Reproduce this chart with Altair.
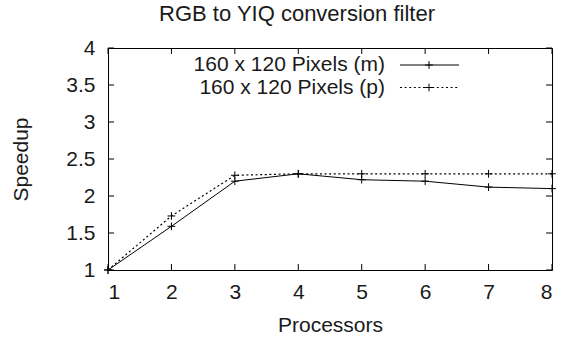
import altair as alt
import pandas as pd

# Speedup measurements for the RGB -> YIQ conversion filter
processors = [1, 2, 3, 4, 5, 6, 7, 8]
speedup_m = [1.0, 1.59, 2.2, 2.3, 2.22, 2.2, 2.12, 2.1]
speedup_p = [1.0, 1.73, 2.28, 2.3, 2.3, 2.3, 2.3, 2.3]
series_names = ["160 x 120 Pixels (m)", "160 x 120 Pixels (p)"]

x_ticks = [1, 2, 3, 4, 5, 6, 7, 8]
y_ticks = [1, 1.5, 2, 2.5, 3, 3.5, 4]

W, H = 444, 222
FONT = "Liberation Sans, Arial, Helvetica, sans-serif"
INK = "#1a1a1a"
FS = 21
PLUS = "M-1,0H1M0,-1V1"
TICK = 6

df = pd.DataFrame({
    "processors": processors * 2,
    "speedup": speedup_m + speedup_p,
    "series": [series_names[0]] * len(processors) + [series_names[1]] * len(processors),
})
xt = pd.DataFrame({"processors": x_ticks})
yt = pd.DataFrame({"speedup": y_ticks})
leg = pd.DataFrame({"label": series_names, "row": [0, 1]})

xscale = alt.Scale(domain=[1, 8], nice=False, zero=False)
yscale = alt.Scale(domain=[1, 4], nice=False, zero=False)

x_axis = alt.Axis(values=x_ticks, format="d", grid=False, domain=False, ticks=False,
                  labelPadding=11, labelFontSize=FS, labelFont=FONT, labelColor=INK,
                  title="Processors", titleFont=FONT, titleFontSize=FS, titleColor=INK,
                  titleFontWeight="normal", titleX=W / 2, titleY=55, titleBaseline="middle")
y_axis = alt.Axis(values=y_ticks, format="~g", grid=False, domain=False, ticks=False,
                  labelPadding=13, labelFontSize=FS, labelFont=FONT, labelColor=INK,
                  title="Speedup", titleFont=FONT, titleFontSize=FS, titleColor=INK,
                  titleFontWeight="normal", titleX=-87, titleY=H / 2, titleBaseline="middle",
                  titleAlign="center")

X = alt.X("processors:Q", scale=xscale, axis=x_axis)
Y = alt.Y("speedup:Q", scale=yscale, axis=y_axis)

base = alt.Chart(df)

line_m = base.transform_filter(alt.datum.series == series_names[0]).mark_line(
    color="black", strokeWidth=1).encode(x=X, y=Y)
line_p = base.transform_filter(alt.datum.series == series_names[1]).mark_line(
    color="black", strokeWidth=1.2, strokeDash=[2, 2.6]).encode(x=X, y=Y)
points = base.mark_point(shape=PLUS, size=60, filled=False, stroke="black",
                         strokeWidth=1, opacity=1).encode(x=X, y=Y)

# inward tick marks on all four sides of the frame
ticks_bottom = alt.Chart(xt).mark_rule(color="black", strokeWidth=1).encode(
    x=X, y=alt.value(H), y2=alt.value(H - TICK))
ticks_top = alt.Chart(xt).mark_rule(color="black", strokeWidth=1).encode(
    x=X, y=alt.value(0), y2=alt.value(TICK))
ticks_left = alt.Chart(yt).mark_rule(color="black", strokeWidth=1).encode(
    y=Y, x=alt.value(0), x2=alt.value(TICK))
ticks_right = alt.Chart(yt).mark_rule(color="black", strokeWidth=1).encode(
    y=Y, x=alt.value(W), x2=alt.value(W - TICK))

# key in the upper left: label, then line sample with a marker
key_layers = []
row_y = [17, 39.5]
for i, dash in enumerate([[1, 0], [2, 2.6]]):
    d = alt.Chart(leg).transform_filter(alt.datum.row == i)
    key_layers.append(d.mark_text(align="right", baseline="middle", font=FONT,
                                  fontSize=FS, color=INK).encode(
        text="label:N", x=alt.value(277), y=alt.value(row_y[i])))
    key_layers.append(d.mark_rule(color="black", strokeWidth=1 if i == 0 else 1.2,
                                  strokeDash=dash).encode(
        x=alt.value(292), x2=alt.value(351), y=alt.value(row_y[i])))
    key_layers.append(d.mark_point(shape=PLUS, size=60, filled=False, stroke="black",
                                   strokeWidth=1, opacity=1).encode(
        x=alt.value(321), y=alt.value(row_y[i])))

title = alt.Chart(leg).transform_filter(alt.datum.row == 0).mark_text(
    align="center", baseline="alphabetic", font=FONT, fontSize=22, color=INK,
    text="RGB to YIQ conversion filter").encode(x=alt.value(189), y=alt.value(-27))

chart = alt.layer(
    line_m, line_p, points,
    ticks_bottom, ticks_top, ticks_left, ticks_right,
    *key_layers, title,
).properties(
    width=W, height=H,
    autosize=alt.AutoSizeParams(type="none"),
    padding={"left": 108, "top": 48, "right": 11, "bottom": 71},
    background="white",
).configure_view(stroke="black", strokeWidth=1)

chart.save("out.html", embed_options={"renderer": "svg", "actions": False})
